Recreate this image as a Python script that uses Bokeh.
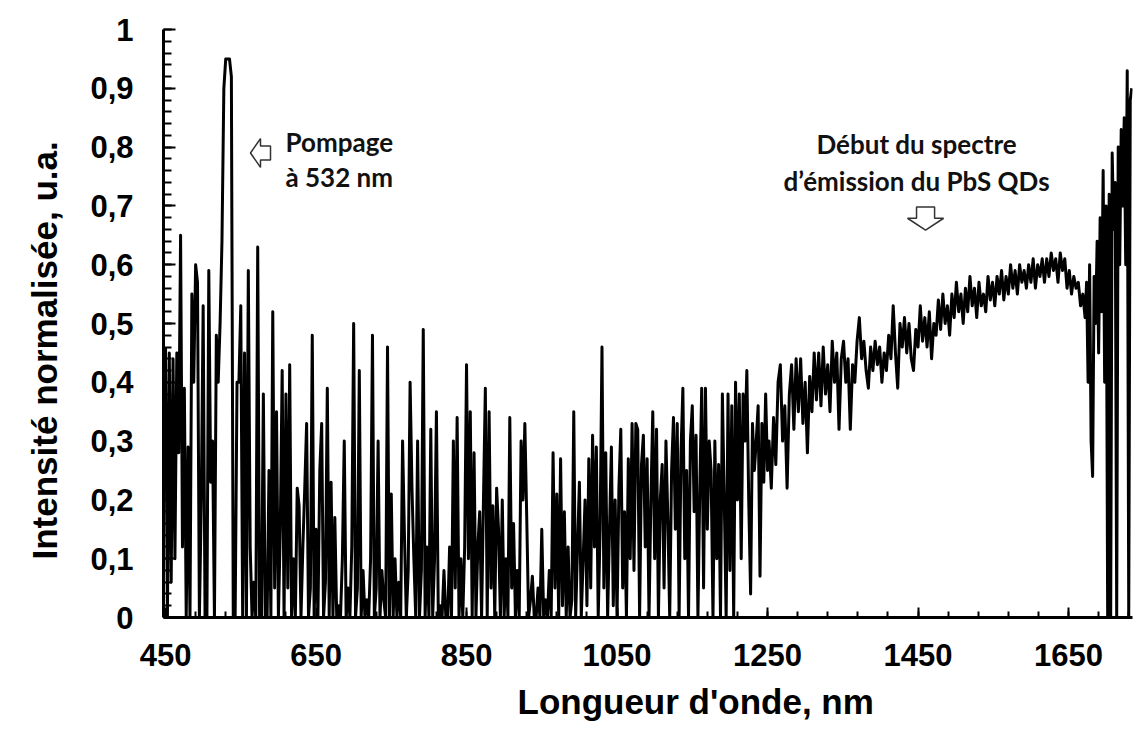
import numpy as np
from bokeh.plotting import figure
from bokeh.models import FixedTicker, CustomJSTickFormatter, Label, Range1d, Title
from bokeh.embed import file_html
from bokeh.resources import INLINE

# ---------------- data ----------------
# Region A: spiky part, 450-960 nm, sampled every 2.5 nm
A_START, A_STEP = 450.0, 2.5
int_a = [
    0.46, 0.00, 0.45, 0.06, 0.44, 0.10, 0.45, 0.28, 0.65, 0.12,
    0.39, 0.00, 0.29, 0.00, 0.55, 0.40, 0.60, 0.57, 0.00, 0.20,
    0.53, 0.00, 0.00, 0.59, 0.23, 0.30, 0.00, 0.48, 0.40, 0.50,
    0.64, 0.90, 0.95, 0.95, 0.95, 0.92, 0.00, 0.00, 0.40, 0.40,
    0.53, 0.00, 0.45, 0.00, 0.59, 0.12, 0.00, 0.06, 0.00, 0.63,
    0.00, 0.00, 0.38, 0.00, 0.00, 0.25, 0.00, 0.52, 0.05, 0.35,
    0.00, 0.15, 0.42, 0.00, 0.38, 0.05, 0.43, 0.00, 0.10, 0.00,
    0.22, 0.19, 0.00, 0.12, 0.22, 0.33, 0.00, 0.05, 0.48, 0.00,
    0.15, 0.00, 0.25, 0.33, 0.00, 0.06, 0.39, 0.00, 0.23, 0.00,
    0.17, 0.00, 0.02, 0.00, 0.10, 0.30, 0.00, 0.05, 0.00, 0.12,
    0.50, 0.00, 0.05, 0.42, 0.00, 0.08, 0.00, 0.03, 0.00, 0.10,
    0.48, 0.00, 0.05, 0.30, 0.00, 0.08, 0.03, 0.00, 0.46, 0.00,
    0.21, 0.00, 0.10, 0.00, 0.06, 0.00, 0.30, 0.14, 0.00, 0.08,
    0.40, 0.22, 0.10, 0.00, 0.30, 0.00, 0.08, 0.49, 0.00, 0.12,
    0.00, 0.32, 0.00, 0.10, 0.35, 0.00, 0.02, 0.00, 0.08, 0.00,
    0.00, 0.12, 0.00, 0.30, 0.05, 0.34, 0.00, 0.10, 0.00, 0.12,
    0.43, 0.10, 0.35, 0.00, 0.28, 0.00, 0.12, 0.18, 0.00, 0.20,
    0.39, 0.00, 0.35, 0.05, 0.19, 0.00, 0.22, 0.15, 0.00, 0.20,
    0.00, 0.10, 0.00, 0.34, 0.05, 0.16, 0.00, 0.08, 0.00, 0.30,
    0.20, 0.33, 0.17, 0.00, 0.03, 0.07, 0.00, 0.00, 0.05, 0.00,
    0.15, 0.00, 0.03, 0.00, 0.08,
]

# Region B: dense noise, 962.5-1250 nm, every 2.5 nm
B_START, B_STEP = 962.5, 2.5
int_b = [
    0.00, 0.28, 0.05, 0.21, 0.00, 0.27, 0.02, 0.18, 0.00, 0.12,
    0.00, 0.03, 0.35, 0.00, 0.12, 0.23, 0.00, 0.10, 0.20, 0.02,
    0.27, 0.05, 0.31, 0.12, 0.29, 0.00, 0.15, 0.46, 0.05, 0.28,
    0.00, 0.15, 0.29, 0.02, 0.20, 0.00, 0.22, 0.32, 0.05, 0.18,
    0.00, 0.27, 0.10, 0.33, 0.08, 0.33, 0.32, 0.00, 0.26, 0.31,
    0.12, 0.27, 0.00, 0.20, 0.35, 0.10, 0.32, 0.00, 0.20, 0.26,
    0.05, 0.30, 0.17, 0.00, 0.25, 0.34, 0.15, 0.33, 0.00, 0.28,
    0.39, 0.10, 0.25, 0.00, 0.30, 0.36, 0.18, 0.31, 0.00, 0.22,
    0.39, 0.05, 0.39, 0.15, 0.30, 0.25, 0.00, 0.30, 0.10, 0.26,
    0.00, 0.38, 0.20, 0.00, 0.38, 0.08, 0.36, 0.00, 0.40, 0.20,
    0.38, 0.10, 0.38, 0.30, 0.42, 0.20, 0.04, 0.33, 0.25, 0.30,
    0.36, 0.07, 0.33, 0.23, 0.38, 0.25,
]

# Region C: rising PbS QDs emission, 1252-1672 nm, every 3 nm
C_START, C_STEP = 1252.0, 3.0
int_c = [
    0.30, 0.22, 0.34, 0.26, 0.40, 0.43, 0.30, 0.36, 0.22, 0.38,
    0.43, 0.32, 0.44, 0.35, 0.44, 0.33, 0.40, 0.28, 0.41, 0.35,
    0.45, 0.37, 0.45, 0.36, 0.46, 0.38, 0.43, 0.35, 0.47, 0.40,
    0.45, 0.32, 0.44, 0.47, 0.40, 0.44, 0.32, 0.43, 0.40, 0.47,
    0.51, 0.44, 0.47, 0.42, 0.39, 0.46, 0.42, 0.47, 0.43, 0.46,
    0.40, 0.45, 0.42, 0.48, 0.44, 0.53, 0.45, 0.39, 0.50, 0.46,
    0.51, 0.45, 0.50, 0.44, 0.42, 0.49, 0.46, 0.53, 0.47, 0.51,
    0.46, 0.52, 0.44, 0.50, 0.48, 0.54, 0.49, 0.55, 0.50, 0.53,
    0.48, 0.55, 0.51, 0.57, 0.52, 0.55, 0.50, 0.56, 0.52, 0.58,
    0.53, 0.56, 0.51, 0.57, 0.53, 0.55, 0.52, 0.58, 0.54, 0.57,
    0.53, 0.58, 0.55, 0.59, 0.54, 0.58, 0.55, 0.60, 0.56, 0.59,
    0.55, 0.60, 0.57, 0.59, 0.56, 0.60, 0.57, 0.61, 0.56, 0.60,
    0.58, 0.61, 0.57, 0.61, 0.58, 0.62, 0.59, 0.61, 0.57, 0.62,
    0.59, 0.61, 0.56, 0.59, 0.55, 0.58, 0.56, 0.57, 0.53, 0.55,
    0.51,
]

# Region D: detector edge, 1674-1734 nm, every 2 nm
D_START, D_STEP = 1674.0, 2.0
int_d = [
    0.57, 0.40, 0.60, 0.30, 0.24, 0.58, 0.50, 0.64, 0.45, 0.68,
    0.52, 0.76, 0.40, 0.70, 0.00, 0.72, 0.00, 0.79, 0.66, 0.74,
    0.00, 0.80, 0.60, 0.83, 0.70, 0.85, 0.60, 0.93, 0.00, 0.88,
    0.90,
]

x_ticks = [450, 650, 850, 1050, 1250, 1450, 1650]
y_ticks = [0.0, 0.1, 0.2, 0.3, 0.4, 0.5, 0.6, 0.7, 0.8, 0.9, 1.0]
y_tick_labels = ["0", "0,1", "0,2", "0,3", "0,4", "0,5", "0,6", "0,7", "0,8", "0,9", "1"]

x_title = "Longueur d'onde, nm"
y_title = "Intensité normalisée, u.a."
note_pump = ["Pompage", "à 532 nm"]
note_qd = ["Début du spectre", "d’émission du PbS QDs"]

# ---------------- build ----------------
wl = np.concatenate([
    A_START + A_STEP * np.arange(len(int_a)),
    B_START + B_STEP * np.arange(len(int_b)),
    C_START + C_STEP * np.arange(len(int_c)),
    D_START + D_STEP * np.arange(len(int_d)),
])
inten = np.concatenate([int_a, int_b, int_c, int_d])

FONT = "Liberation Sans"
X0, X1 = 447.3, 1735.0

p = figure(
    width=1134, height=731,
    x_range=Range1d(X0, X1), y_range=Range1d(0, 1),
    output_backend="svg", toolbar_location=None,
    min_border_left=163, min_border_right=2,
    min_border_top=29, min_border_bottom=113,
)
p.outline_line_color = None
p.xgrid.visible = False
p.ygrid.visible = False
p.background_fill_color = "white"
p.border_fill_color = "white"

p.line(wl, inten, line_color="black", line_width=3, line_join="round")

# axes
for ax in (p.xaxis[0], p.yaxis[0]):
    ax.axis_line_width = 3
    ax.axis_line_color = "black"
    ax.major_tick_line_color = "black"
    ax.minor_tick_line_color = "black"
    ax.major_tick_line_width = 2
    ax.minor_tick_line_width = 2
    ax.major_tick_out = 0
    ax.minor_tick_out = 0
    ax.major_label_text_font = FONT
    ax.major_label_text_font_style = "bold"
    ax.major_label_text_font_size = "31px"
    ax.major_label_text_color = "black"

xa = p.xaxis[0]
xa.ticker = FixedTicker(ticks=x_ticks, minor_ticks=[450 + 40 * k for k in range(33)])
xa.major_tick_in = 10
xa.minor_tick_in = 6
xa.major_label_standoff = 26

ya = p.yaxis[0]
ya.ticker = FixedTicker(ticks=y_ticks, minor_ticks=[k / 50 for k in range(51)])
ya.major_tick_in = 12
ya.minor_tick_in = 8
ya.major_label_standoff = 30
ya.formatter = CustomJSTickFormatter(args=dict(vals=y_ticks, labs=y_tick_labels), code="""
    let best = 0, d = 1e9;
    for (let i = 0; i < vals.length; i++) {
        const dd = Math.abs(vals[i] - tick);
        if (dd < d) { d = dd; best = i; }
    }
    return labs[best];
""")

# axis titles as side titles (stacked outside the axes)
p.add_layout(Title(text=x_title, align="left", offset=354, standoff=22,
                   text_font=FONT, text_font_style="bold", text_font_size="35px",
                   text_color="black"), "below")
p.add_layout(Title(text=y_title, align="left", vertical_align="top", offset=58, standoff=44,
                   text_font=FONT, text_font_style="bold", text_font_size="35px",
                   text_color="black"), "left")

# annotations
NOTE_FONT = "Lato"
def note(x, y, txt, align):
    p.add_layout(Label(x=x, y=y, text=txt, text_font=NOTE_FONT, text_font_style="bold",
                       text_font_size="26px", text_color="#111111",
                       text_align=align, text_baseline="alphabetic"))

note(609.4, 0.808, note_pump[0], "left")
note(609.4, 0.749, note_pump[1], "left")
note(1448.0, 0.805, note_qd[0], "center")
note(1448.0, 0.742, note_qd[1], "center")

# hollow block arrows
tip_x, cy = 562.9, 0.790
hl, L, hh, sh = 13.3, 26.6, 0.0245, 0.012
p.patch([tip_x, tip_x + hl, tip_x + hl, tip_x + L, tip_x + L, tip_x + hl, tip_x + hl],
        [cy, cy + hh, cy + sh, cy + sh, cy - sh, cy - sh, cy - hh],
        fill_color="white", line_color="#333333", line_width=1.5)

cx, top, hb, tip_y = 1460.0, 0.698, 0.679, 0.659
sw, hw = 12.0, 24.0
p.patch([cx, cx - hw, cx - sw, cx - sw, cx + sw, cx + sw, cx + hw],
        [tip_y, hb, hb, top, top, hb, hb],
        fill_color="white", line_color="#333333", line_width=1.5)

open("out.html", "w").write(file_html(p, INLINE))
